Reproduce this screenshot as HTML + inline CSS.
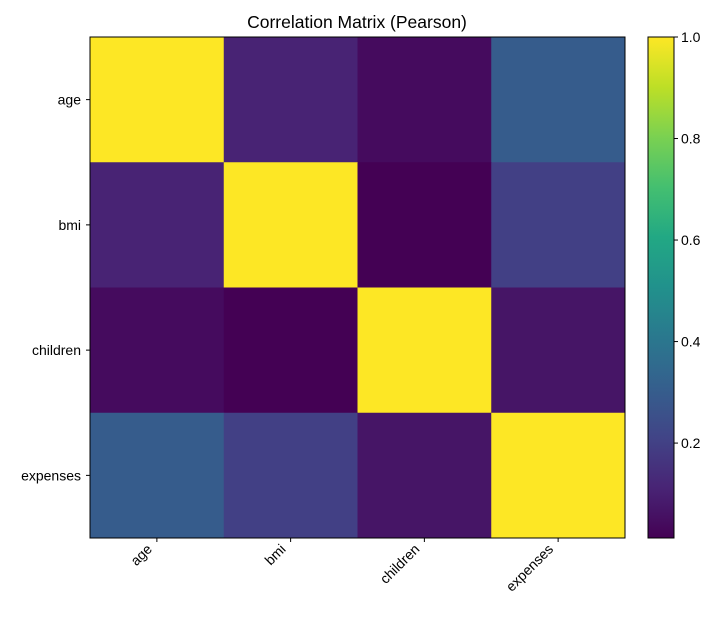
<!DOCTYPE html>
<html><head><meta charset="utf-8"><style>
body{margin:0;background:#fff}
svg text{font-family:"Liberation Sans",sans-serif;fill:#000}
</style></head><body>
<svg id="c" width="720" height="620" xmlns="http://www.w3.org/2000/svg">
<defs><linearGradient id="vg" x1="0" y1="1" x2="0" y2="0"></linearGradient></defs>
<text x="357" y="28" font-size="17.5" text-anchor="middle">Correlation Matrix (Pearson)</text>
</svg>
<script>
const labels = ["age","bmi","children","expenses"];
const corr = [
 [1.000,0.109,0.042,0.299],
 [0.109,1.000,0.013,0.199],
 [0.042,0.013,1.000,0.068],
 [0.299,0.199,0.068,1.000]
];
const cbTicks = [0.2,0.4,0.6,0.8,1.0];
const cbTickLabels = ["0.2","0.4","0.6","0.8","1.0"];

const NS="http://www.w3.org/2000/svg";
const svg=document.getElementById('c');
function el(t,a,p){const e=document.createElementNS(NS,t);for(const k in a)e.setAttribute(k,a[k]);(p||svg).appendChild(e);return e;}
const vir=["#440154","#482475","#414487","#355f8d","#2a788e","#21918c","#22a884","#44bf70","#7ad151","#bddf26","#fde725"];
function hex(h){return [1,3,5].map(i=>parseInt(h.substr(i,2),16));}
function cmap(t){t=Math.max(0,Math.min(1,t));const f=t*10,i=Math.min(9,Math.floor(f)),r=f-i;const a=hex(vir[i]),b=hex(vir[i+1]);return 'rgb('+a.map((v,k)=>Math.round(v+(b[k]-v)*r)).join(',')+')';}
let vmin=Infinity,vmax=-Infinity;corr.flat().forEach(v=>{vmin=Math.min(vmin,v);vmax=Math.max(vmax,v);});
const X0=90,X1=625,Y0=37,Y1=538,n=labels.length,cw=(X1-X0)/n,ch=(Y1-Y0)/n;
const norm=v=>(v-vmin)/(vmax-vmin);
corr.forEach((row,i)=>row.forEach((v,j)=>{
 const r=el('rect',{x:X0+j*cw,y:Y0+i*ch,width:cw+0.5,height:ch+0.5,fill:cmap(norm(v))});
 
 
}));
el('rect',{x:X0,y:Y0,width:X1-X0,height:Y1-Y0,fill:'none',stroke:'#000','stroke-width':1});
labels.forEach((l,i)=>{
 const y=Y0+(i+0.5)*ch;
 el('line',{x1:X0-4,x2:X0,y1:y,y2:y,stroke:'#000'});
 const t=el('text',{x:X0-9,y:y+5,'font-size':14,'text-anchor':'end'});t.textContent=l;
 
 
 const x=X0+(i+0.5)*cw;
 el('line',{x1:x,x2:x,y1:Y1,y2:Y1+4,stroke:'#000'});
 const ax=x-4,ay=Y1+12;
 const tx=el('text',{x:ax,y:ay,'font-size':14,'text-anchor':'end',transform:'rotate(-45 '+ax+' '+ay+')'});tx.textContent=l;
 
 
});
const g=document.querySelector('linearGradient');
for(let k=0;k<=20;k++){el('stop',{offset:(k/20),'stop-color':cmap(k/20)},g);}
const CX=648,CW=26;
const cb=el('rect',{x:CX,y:Y0,width:CW,height:Y1-Y0,fill:'url(#vg)',stroke:'#000','stroke-width':1});


const cy=v=>Y1-(v-vmin)/(vmax-vmin)*(Y1-Y0);
cbTicks.forEach((v,k)=>{
 const y=cy(v);
 el('line',{x1:CX+CW,x2:CX+CW+4,y1:y,y2:y,stroke:'#000'});
 const t=el('text',{x:CX+CW+7,y:y+5,'font-size':14});t.textContent=cbTickLabels[k];
 
 
});
</script>
</body></html>
